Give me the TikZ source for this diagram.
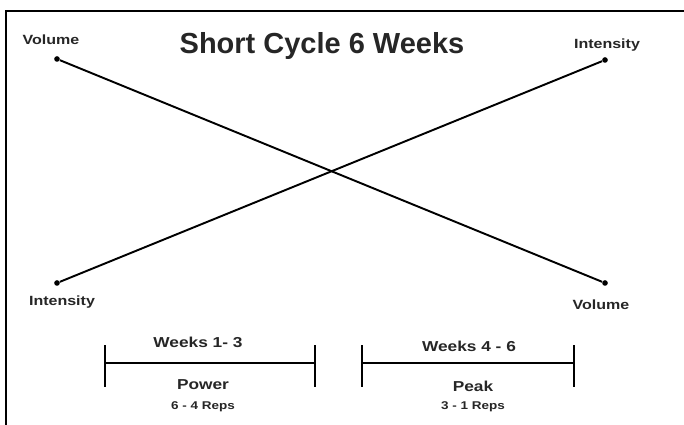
\documentclass[tikz,border=0pt]{standalone}
\usepackage{fontspec}
\setmainfont{Liberation Sans}
\newfontfamily\widefont{Liberation Sans}[FakeStretch=1.2]
\usepackage{tikz}
\usetikzlibrary{positioning}

\begin{document}
\begin{tikzpicture}[x=0.02cm, y=-0.02cm,
  every node/.style={text=black!85},
  dot/.style={circle, fill=black, inner sep=0pt, minimum size=3.2pt},
  tag/.style={font=\widefont\bfseries\fontsize{7.6}{9}\selectfont},
  phase/.style={font=\widefont\bfseries\fontsize{8.2}{10}\selectfont},
  reps/.style={font=\widefont\bfseries\fontsize{6.4}{8}\selectfont},
  trend/.style={line width=1.1pt},
  bar/.style={line width=1.4pt},
  tick/.style={line width=1.7pt}]
\useasboundingbox (0,0) rectangle (684,425);
\draw[line width=1.6pt] (6,425) -- (6,11) -- (684,11);

\node[font=\bfseries\fontsize{16.5}{20}\selectfont] (title) at (322,46) {Short Cycle 6 Weeks};

% end points of the two lines
\node[dot] (vol1) at (57,59) {};
\node[dot] (int1) at (605,60) {};
\node[dot] (int2) at (57,283) {};
\node[dot] (vol2) at (605,283) {};
\draw[trend] (vol1) -- (vol2);
\draw[trend] (int2) -- (int1);

\node[tag] (vol1t) at (51,40) {Volume};
\node[tag] (int1t) at (607,45) {Intensity};
\node[tag] (int2t) at (62,302) {Intensity};
\node[tag] (vol2t) at (601,305) {Volume};

% the two phases
\coordinate (b1l) at (105,363);
\coordinate (b1r) at (315,363);
\coordinate (b2l) at (362,363);
\coordinate (b2r) at (574,363);
\draw[bar] (b1l) -- (b1r);
\draw[bar] (b2l) -- (b2r);
\foreach \p in {b1l,b1r,b2l,b2r}
  \draw[tick] ([yshift=10.2pt]\p) -- ([yshift=-13.6pt]\p);

\node[phase] (wk1) at (198,342) {Weeks 1- 3};
\node[phase] (pow) at (203,385) {Power};
\node[reps] (rep1) at (203,407) {6 - 4 Reps};
\node[phase] (wk2) at (469,346) {Weeks 4 - 6};
\node[phase] (peak) at (473,386) {Peak};
\node[reps] (rep2) at (473,407) {3 - 1 Reps};
\end{tikzpicture}
\end{document}
